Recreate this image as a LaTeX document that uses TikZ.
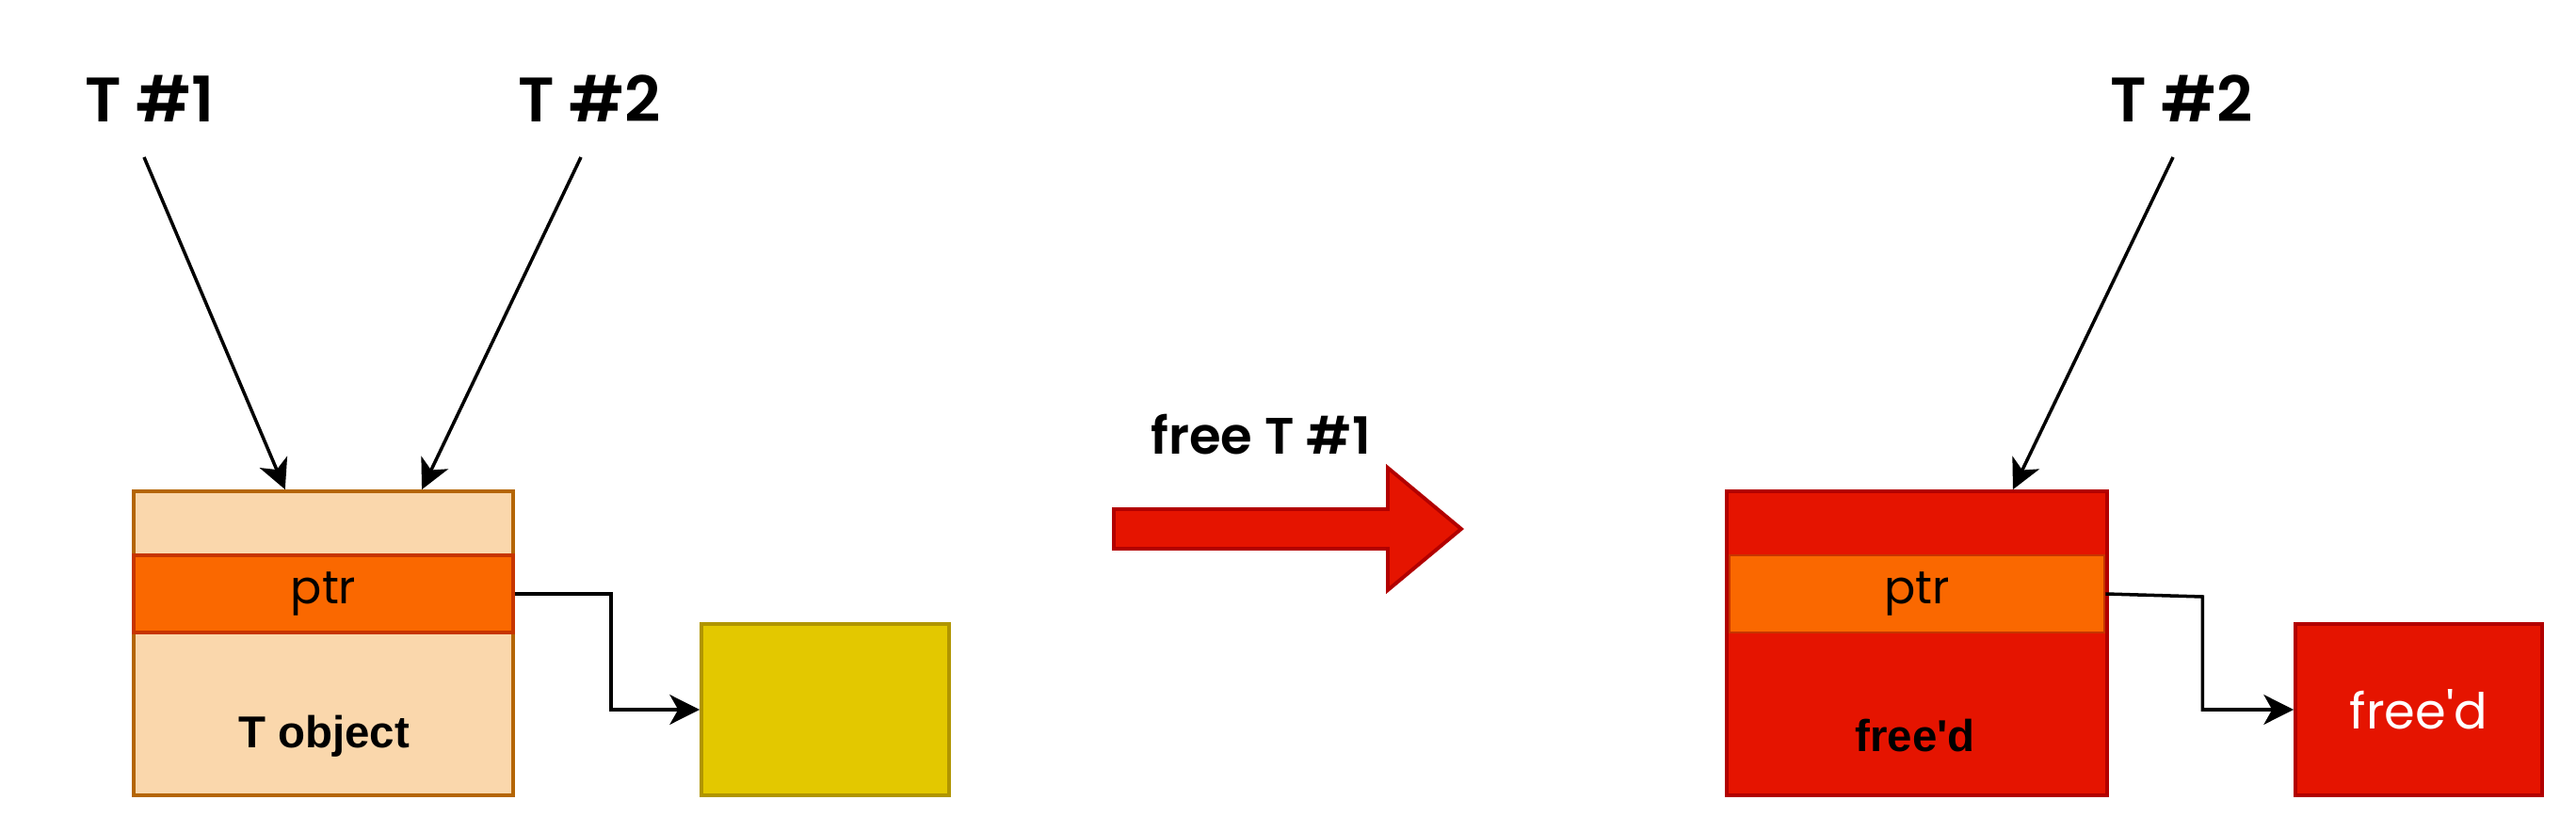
\documentclass[tikz,border=0pt]{standalone}
\usepackage{fontspec}
\setmainfont{Liberation Sans}
\newfontfamily\comic{Poppins}[BoldFont={Poppins SemiBold}]
\usetikzlibrary{arrows.meta,calc,positioning}
\definecolor{objF}{HTML}{FAD7AC}
\definecolor{objD}{HTML}{B46504}
\definecolor{ptrF}{HTML}{FA6800}
\definecolor{ptrD}{HTML}{C73500}
\definecolor{heapF}{HTML}{E3C800}
\definecolor{heapD}{HTML}{B09500}
\definecolor{redF}{HTML}{E51400}
\definecolor{redD}{HTML}{B20000}

\begin{document}
\begin{tikzpicture}[>={Stealth[length=9pt,width=9pt,inset=2.5pt]},
  box/.style={draw,line width=1.1pt,inner sep=0pt},
  thread/.style={font=\comic\bfseries\fontsize{19}{19}\selectfont,inner sep=0pt,anchor=south},
  link/.style={->,line width=1pt}]
% 1px = 0.01cm, origin top left
\fill[white] (0,0) rectangle (27.36,-8.84);
% before
\node[box,fill=objF,draw=objD,minimum width=4.03cm,minimum height=3.23cm] (obj) at (3.435,-6.835) {};
\node[box,fill=ptrF,draw=ptrD,minimum width=4.03cm,minimum height=0.82cm,font=\comic\fontsize{14}{14}\selectfont] (ptrA) at (3.435,-6.31) {ptr};
\node[font=\bfseries\fontsize{13.5}{13.5}\selectfont] (objlbl) at (3.44,-7.82) {T object};
\node[box,fill=heapF,draw=heapD,minimum width=2.63cm,minimum height=1.82cm] (heap) at (8.765,-7.54) {};
\node[thread] (t1) at (1.59,-1.30) {T \#1};
\node[thread] (t2) at (6.26,-1.30) {T \#2};
\draw[link] ([xshift=-0.06cm,yshift=-0.37cm]t1.south) -- ($(obj.north west)!0.40!(obj.north east)$);
\draw[link] ([xshift=-0.09cm,yshift=-0.37cm]t2.south) -- ($(obj.north west)!0.757!(obj.north east)$);
\draw[link] (ptrA.east) -- ++(1.02,0) |- (heap.west);
% transition
\fill[redF,draw=redD,line width=1.1pt] (11.83,-5.41) -- (14.74,-5.41) -- (14.74,-4.97) -- (15.52,-5.62) -- (14.74,-6.27) -- (14.74,-5.83) -- (11.83,-5.83) -- cycle;
\node[font=\comic\bfseries\fontsize{15.5}{15.5}\selectfont] (freelbl) at (13.39,-4.62) {free T \#1};
% after
\node[box,fill=redF,draw=redD,minimum width=4.04cm,minimum height=3.23cm] (fobj) at (20.36,-6.835) {};
\node[box,fill=ptrF,draw=ptrD,line width=0.8pt,minimum width=3.98cm,minimum height=0.82cm,font=\comic\fontsize{14}{14}\selectfont] (ptrB) at (20.36,-6.31) {ptr};
\node[font=\bfseries\fontsize{13.5}{13.5}\selectfont] (fobjlbl) at (20.34,-7.82) {free\textquotesingle d};
\node[box,fill=redF,draw=redD,minimum width=2.62cm,minimum height=1.82cm,text=white,font=\comic\fontsize{15}{15}\selectfont] (fheap) at (25.69,-7.54) {free\textquotesingle d};
\node[thread] (t3) at (23.17,-1.30) {T \#2};
\draw[link] ([xshift=-0.09cm,yshift=-0.37cm]t3.south) -- ($(fobj.north west)!0.75!(fobj.north east)$);
\draw[link] (ptrB.east) -- ++(1.03,-0.03) |- (fheap.west);
\end{tikzpicture}
\end{document}
